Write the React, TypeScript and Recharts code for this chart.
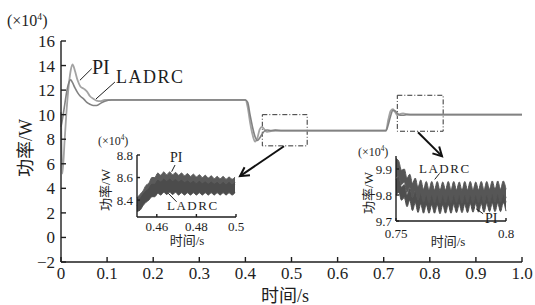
import React from 'react';
import { LineChart, ComposedChart, Line, Area, XAxis, YAxis, ReferenceArea, ReferenceLine } from 'recharts';

// main trace: power (x10^4 W) vs time (s)
const mainTime = [0, 0.003, 0.008, 0.013, 0.018, 0.021, 0.025, 0.03, 0.036, 0.042, 0.05, 0.056, 0.063, 0.07, 0.077, 0.085, 0.095, 0.11,
  0.4, 0.405, 0.41, 0.416, 0.421, 0.426, 0.431, 0.436, 0.441, 0.447, 0.455, 0.465, 0.48,
  0.7, 0.705, 0.71, 0.715, 0.72, 0.725, 0.73, 0.735, 0.742, 0.75, 0.76, 0.78, 1.0];
const mainPI = [10.2, 5.2, 8.0, 10.8, 12.8, 13.6, 14.1, 13.6, 12.8, 12.3, 12.1, 11.9, 11.5, 11.3, 11.15, 11.1, 11.2, 11.2,
  11.2, 10.6, 9.4, 8.3, 7.8, 8.1, 8.8, 9.0, 8.8, 8.6, 8.65, 8.75, 8.7,
  8.7, 8.7, 9.6, 10.3, 10.45, 10.2, 9.95, 10.05, 10.1, 10.05, 10.0, 10.0, 10.0];
const mainLADRC = [9.0, 9.6, 10.8, 12.0, 12.7, 12.85, 12.6, 12.2, 11.8, 11.5, 11.25, 11.0, 10.85, 10.75, 10.75, 10.9, 11.1, 11.2,
  11.2, 11.0, 10.0, 8.9, 8.2, 7.9, 8.1, 8.4, 8.65, 8.75, 8.7, 8.7, 8.7,
  8.7, 8.7, 9.2, 9.9, 10.35, 10.3, 10.1, 9.95, 9.95, 10.0, 10.0, 10.0, 10.0];
const mainTicksX = [0, 0.1, 0.2, 0.3, 0.4, 0.5, 0.6, 0.7, 0.8, 0.9, 1.0];
const mainTicksY = [-2, 0, 2, 4, 6, 8, 10, 12, 14, 16];

// zoom 1: 0.45 - 0.5 s, ripple envelope (upper / lower edge of each band)
const zoom1Time = [0.45, 0.4515, 0.453, 0.4545, 0.456, 0.4575, 0.459, 0.4605, 0.462, 0.4635, 0.465, 0.4665, 0.468, 0.4695, 0.471, 0.4725, 0.474,
  0.4755, 0.477, 0.4785, 0.48, 0.4815, 0.483, 0.4845, 0.486, 0.4875, 0.489, 0.4905, 0.492, 0.4935, 0.495, 0.4965, 0.498, 0.4995];
const zoom1PIHigh = [8.42, 8.45, 8.48, 8.53, 8.55, 8.6, 8.6, 8.64, 8.62, 8.65, 8.625, 8.65, 8.625, 8.645, 8.62, 8.64, 8.615,
  8.635, 8.61, 8.63, 8.605, 8.625, 8.6, 8.62, 8.595, 8.615, 8.59, 8.61, 8.59, 8.61, 8.585, 8.605, 8.585, 8.605];
const zoom1PILow = [8.35, 8.38, 8.41, 8.46, 8.48, 8.53, 8.53, 8.57, 8.55, 8.58, 8.555, 8.58, 8.555, 8.575, 8.55, 8.57, 8.545,
  8.565, 8.54, 8.56, 8.535, 8.555, 8.53, 8.55, 8.525, 8.545, 8.52, 8.54, 8.52, 8.54, 8.515, 8.535, 8.515, 8.535];
const zoom1LADRCHigh = [8.39, 8.41, 8.45, 8.48, 8.5, 8.54, 8.54, 8.575, 8.56, 8.585, 8.565, 8.585, 8.565, 8.58, 8.56, 8.575, 8.555,
  8.57, 8.55, 8.565, 8.545, 8.565, 8.545, 8.56, 8.54, 8.56, 8.54, 8.555, 8.535, 8.555, 8.535, 8.555, 8.535, 8.555];
const zoom1LADRCLow = [8.3, 8.31, 8.35, 8.38, 8.4, 8.43, 8.43, 8.46, 8.445, 8.47, 8.45, 8.47, 8.45, 8.47, 8.445, 8.465, 8.445,
  8.465, 8.445, 8.465, 8.445, 8.465, 8.445, 8.465, 8.445, 8.465, 8.445, 8.465, 8.445, 8.465, 8.445, 8.465, 8.445, 8.465];
const zoom1TicksX = [0.46, 0.48, 0.5];
const zoom1TicksY = [8.4, 8.6, 8.8];

// zoom 2: 0.75 - 0.8 s
const zoom2Time = [0.75, 0.75125, 0.7525, 0.75375, 0.755, 0.75625, 0.7575, 0.75875, 0.76, 0.76125, 0.7625, 0.76375, 0.765, 0.76625,
  0.7675, 0.76875, 0.77, 0.77125, 0.7725, 0.77375, 0.775, 0.77625, 0.7775, 0.77875, 0.78, 0.78125, 0.7825, 0.78375,
  0.785, 0.78625, 0.7875, 0.78875, 0.79, 0.79125, 0.7925, 0.79375, 0.795, 0.79625, 0.7975, 0.79875, 0.8];
const zoom2LADRCHigh = [9.94, 9.93, 9.895, 9.9, 9.865, 9.88, 9.845, 9.865, 9.83, 9.858, 9.822, 9.852, 9.82, 9.852,
  9.82, 9.852, 9.818, 9.85, 9.82, 9.852, 9.82, 9.852, 9.82, 9.85, 9.818, 9.852, 9.82, 9.852,
  9.82, 9.85, 9.82, 9.852, 9.82, 9.852, 9.822, 9.854, 9.822, 9.854, 9.822, 9.854, 9.822];
const zoom2LADRCLow = [9.87, 9.87, 9.84, 9.85, 9.81, 9.83, 9.79, 9.815, 9.78, 9.805, 9.772, 9.8, 9.77, 9.8,
  9.77, 9.8, 9.768, 9.798, 9.77, 9.8, 9.77, 9.8, 9.77, 9.798, 9.768, 9.8, 9.77, 9.8,
  9.77, 9.798, 9.77, 9.8, 9.77, 9.8, 9.772, 9.802, 9.772, 9.802, 9.772, 9.802, 9.772];
const zoom2PIHigh = [9.86, 9.87, 9.83, 9.84, 9.8, 9.825, 9.79, 9.815, 9.783, 9.812, 9.78, 9.81, 9.78, 9.81,
  9.78, 9.81, 9.778, 9.81, 9.78, 9.81, 9.78, 9.812, 9.782, 9.812, 9.782, 9.812, 9.782, 9.814,
  9.784, 9.814, 9.784, 9.814, 9.784, 9.816, 9.786, 9.816, 9.786, 9.816, 9.786, 9.818, 9.788];
const zoom2PILow = [9.8, 9.81, 9.78, 9.79, 9.755, 9.78, 9.74, 9.77, 9.733, 9.765, 9.73, 9.762, 9.73, 9.762,
  9.73, 9.762, 9.728, 9.762, 9.73, 9.762, 9.73, 9.764, 9.732, 9.764, 9.732, 9.764, 9.732, 9.766,
  9.734, 9.766, 9.734, 9.766, 9.734, 9.768, 9.736, 9.768, 9.736, 9.768, 9.736, 9.77, 9.738];
const zoom2TicksX = [0.75, 0.8];
const zoom2TicksY = [9.7, 9.8, 9.9];

const mainRows = mainTime.map((t, i) => ({ t, pi: mainPI[i], ladrc: mainLADRC[i] }));
const bandRows = (t: number[], piHi: number[], piLo: number[], ladHi: number[], ladLo: number[]) =>
  t.map((x, i) => ({ t: x, pi: [piLo[i], piHi[i]], ladrc: [ladLo[i], ladHi[i]] }));
const zoom1Rows = bandRows(zoom1Time, zoom1PIHigh, zoom1PILow, zoom1LADRCHigh, zoom1LADRCLow);
const zoom2Rows = bandRows(zoom2Time, zoom2PIHigh, zoom2PILow, zoom2LADRCHigh, zoom2LADRCLow);

const serif = "'Liberation Serif', 'DejaVu Serif', serif";
const ink = '#1e1e1e';
const css = `
  .fig text, .fig tspan { font-family: 'Liberation Serif', 'DejaVu Serif', 'Noto Sans CJK SC', serif !important; }
`;

const fmtMain = (v: number) => (v < 0 ? '\u2212' + Math.abs(v) : String(v));
const fmtX = (v: number) => (v === 0 ? '0' : v.toFixed(1));

// arrow drawn along a reference segment, head at the second point
const Arrow = (props: any) => {
  const { x1, y1, x2, y2 } = props;
  const a = Math.atan2(y2 - y1, x2 - x1);
  const L = 10;
  const s = 0.5;
  const h1 = [x2 - L * Math.cos(a - s), y2 - L * Math.sin(a - s)];
  const h2 = [x2 - L * Math.cos(a + s), y2 - L * Math.sin(a + s)];
  return (
    <g>
      <line x1={x1} y1={y1} x2={x2} y2={y2} stroke="#111" strokeWidth={2} />
      <polyline points={`${h1[0]},${h1[1]} ${x2},${y2} ${h2[0]},${h2[1]}`} fill="none" stroke="#111" strokeWidth={2} />
    </g>
  );
};

const Sup = ({ x, y, size }: { x: number; y: number; size: number }) => (
  <text x={x} y={y} fontSize={size} fill={ink}>
    (×10<tspan fontSize={size * 0.6} dy={-size * 0.4}>4</tspan><tspan dy={size * 0.4}>)</tspan>
  </text>
);

export default function App() {
  const axisStroke = { stroke: ink, strokeWidth: 1.4 };
  const tickMain = { fill: ink, fontSize: 17, fontFamily: serif };
  const tickSmall = { fill: ink, fontSize: 13, fontFamily: serif };
  return (
    <div className="fig" style={{ position: 'absolute', left: 0, top: 0, width: 535, height: 305, background: '#fff', fontFamily: serif }}>
      <style>{css}</style>
      <div style={{ position: 'absolute', left: 0, top: 0 }}>
        <LineChart width={535} height={305} data={mainRows} margin={{ top: 41, right: 13, bottom: 0, left: 0 }}>
          <XAxis type="number" dataKey="t" domain={[0, 1]} ticks={mainTicksX} interval={0} tickFormatter={fmtX}
            height={43} axisLine={axisStroke} tickLine={axisStroke} tickSize={-5} tickMargin={10} tick={tickMain} />
          <YAxis type="number" domain={[-2, 16]} ticks={mainTicksY} interval={0} tickFormatter={fmtMain}
            width={61} axisLine={axisStroke} tickLine={axisStroke} tickSize={-5} tickMargin={11} tick={tickMain} />
          <Line dataKey="pi" type="monotone" stroke="#a3a3a3" strokeWidth={1.8} dot={false} isAnimationActive={false} />
          <Line dataKey="ladrc" type="monotone" stroke="#828282" strokeWidth={1.6} dot={false} isAnimationActive={false} />
          <ReferenceArea x1={0.4367} x2={0.534} y1={7.46} y2={10.0} fill="none" stroke="#333" strokeWidth={1} strokeDasharray="5 2 1 2" />
          <ReferenceArea x1={0.7295} x2={0.829} y1={8.65} y2={11.58} fill="none" stroke="#333" strokeWidth={1} strokeDasharray="5 2 1 2" />
          <ReferenceLine segment={[{ x: 0.4837, y: 7.43 }, { x: 0.3883, y: 4.99 }]} shape={Arrow} />
          <ReferenceLine segment={[{ x: 0.7744, y: 8.57 }, { x: 0.8265, y: 6.62 }]} shape={Arrow} />
          <ReferenceLine segment={[{ x: 0.041, y: 12.8 }, { x: 0.0666, y: 13.75 }]} stroke={ink} strokeWidth={1} />
          <ReferenceLine segment={[{ x: 0.0759, y: 11.28 }, { x: 0.117, y: 12.66 }]} stroke={ink} strokeWidth={1} />
        </LineChart>
      </div>

      <div style={{ position: 'absolute', left: 90, top: 130 }}>
        <ComposedChart width={155} height={125} data={zoom1Rows} margin={{ top: 25, right: 9, bottom: 0, left: 0 }}>
          <XAxis type="number" dataKey="t" domain={[0.45, 0.5]} ticks={zoom1TicksX} interval={0} tickFormatter={(v: number) => String(v)}
            height={38} axisLine={axisStroke} tickLine={axisStroke} tickSize={-3} tickMargin={8} tick={tickSmall} />
          <YAxis type="number" domain={[8.25, 8.8]} ticks={zoom1TicksY} interval={0} tickFormatter={(v: number) => v.toFixed(1)}
            width={47} axisLine={axisStroke} tickLine={axisStroke} tickSize={-3} tickMargin={7} tick={tickSmall} allowDataOverflow />
          <Area dataKey="pi" type="monotone" fill="#5a5a5a" fillOpacity={1} stroke="#5a5a5a" strokeWidth={1} dot={false} isAnimationActive={false} />
          <Area dataKey="ladrc" type="monotone" fill="#4c4c4c" fillOpacity={1} stroke="#4c4c4c" strokeWidth={1} dot={false} isAnimationActive={false} />
          <ReferenceLine segment={[{ x: 0.4692, y: 8.711 }, { x: 0.4675, y: 8.652 }]} stroke={ink} strokeWidth={1} />
          <ReferenceLine segment={[{ x: 0.47, y: 8.385 }, { x: 0.4658, y: 8.46 }]} stroke={ink} strokeWidth={1} />
        </ComposedChart>
      </div>

      <div style={{ position: 'absolute', left: 345, top: 130 }}>
        <ComposedChart width={175} height={125} data={zoom2Rows} margin={{ top: 26, right: 14, bottom: 0, left: 0 }}>
          <XAxis type="number" dataKey="t" domain={[0.75, 0.8]} ticks={zoom2TicksX} interval={0} tickFormatter={(v: number) => String(v)}
            height={34} axisLine={axisStroke} tickLine={axisStroke} tickSize={-3} tickMargin={11} tick={tickSmall} />
          <YAxis type="number" domain={[9.7, 9.95]} ticks={zoom2TicksY} interval={0} tickFormatter={(v: number) => v.toFixed(1)}
            width={51} axisLine={axisStroke} tickLine={axisStroke} tickSize={-3} tickMargin={7} tick={tickSmall} allowDataOverflow />
          <Area dataKey="pi" type="monotone" fill="#4e4e4e" fillOpacity={1} stroke="#4e4e4e" strokeWidth={1} dot={false} isAnimationActive={false} />
          <Area dataKey="ladrc" type="monotone" fill="#565656" fillOpacity={1} stroke="#565656" strokeWidth={1} dot={false} isAnimationActive={false} />
          <ReferenceLine segment={[{ x: 0.7698, y: 9.883 }, { x: 0.7676, y: 9.86 }]} stroke={ink} strokeWidth={1} />
          <ReferenceLine segment={[{ x: 0.7896, y: 9.728 }, { x: 0.7864, y: 9.747 }]} stroke={ink} strokeWidth={1} />
        </ComposedChart>
      </div>

      <svg width={535} height={305} style={{ position: 'absolute', left: 0, top: 0, pointerEvents: 'none' }}>
        <Sup x={7} y={26} size={16} />
        <text x={26} y={148} transform="rotate(-90 26 148)" textAnchor="middle" dominantBaseline="central" fontSize={18} fill={ink}>功率/W</text>
        <text x={285} y={302} textAnchor="middle" fontSize={18} fill={ink}>时间/s</text>
        <text x={92} y={74} fontSize={20} fill={ink}>PI</text>
        <text x={116} y={83} fontSize={18} letterSpacing={1.5} fill={ink}>LADRC</text>

        <Sup x={98} y={145} size={12} />
        <text x={105} y={190} transform="rotate(-90 105 190)" textAnchor="middle" dominantBaseline="central" fontSize={13} fill={ink}>功率/W</text>
        <text x={187} y={245} textAnchor="middle" fontSize={13} fill={ink}>时间/s</text>
        <text x={170} y={162} fontSize={14} fill={ink}>PI</text>
        <text x={167} y={210} fontSize={13} letterSpacing={1.5} fill={ink}>LADRC</text>

        <Sup x={358} y={156} size={12} />
        <text x={368} y={193} transform="rotate(-90 368 193)" textAnchor="middle" dominantBaseline="central" fontSize={13} fill={ink}>功率/W</text>
        <text x={448} y={246} textAnchor="middle" fontSize={13} fill={ink}>时间/s</text>
        <text x={419} y={173} fontSize={13} letterSpacing={1.5} fill={ink}>LADRC</text>
        <text x={485} y={223} fontSize={14} fill={ink}>PI</text>
      </svg>
    </div>
  );
}
